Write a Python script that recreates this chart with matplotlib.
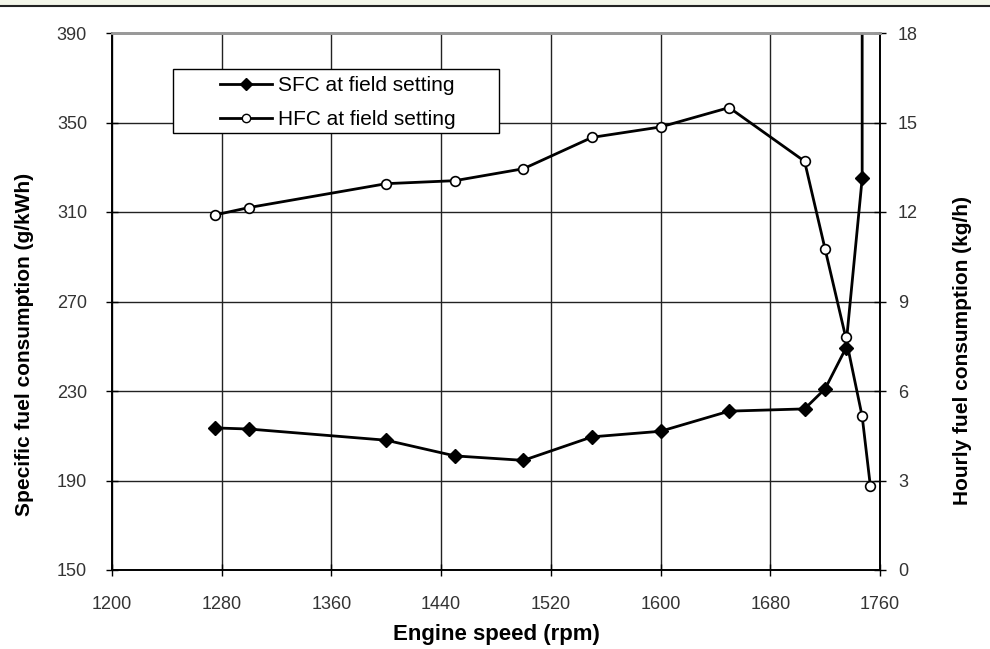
import matplotlib.pyplot as plt
from matplotlib.lines import Line2D

plt.rcParams['font.family'] = ['Liberation Sans', 'DejaVu Sans']

# engine speed (rpm)
sfc_speed = [1275, 1300, 1400, 1450, 1500, 1550, 1600, 1650, 1705, 1720, 1735, 1747, 1747]
sfc_values = [213.5, 213, 208, 201, 199, 209.5, 212, 221, 222, 231, 249, 325, 900]
hfc_speed = [1275, 1300, 1400, 1450, 1500, 1550, 1600, 1650, 1705, 1720, 1735, 1747, 1753]
hfc_values = [11.9, 12.15, 12.95, 13.05, 13.45, 14.5, 14.85, 15.5, 13.7, 10.75, 7.8, 5.15, 2.8]

x_ticks = [1200, 1280, 1360, 1440, 1520, 1600, 1680, 1760]
left_ticks = [150, 190, 230, 270, 310, 350, 390]
right_ticks = [0, 3, 6, 9, 12, 15, 18]

fig = plt.figure(figsize=(9.9, 6.49), dpi=100)
# cream strip at top of the picture
fig.patches.append(plt.Rectangle((0, 1 - 5.5 / 649), 1, 5.5 / 649, transform=fig.transFigure,
                                 facecolor='#f3f6e9', edgecolor='none'))
fig.lines.append(Line2D([0, 1], [1 - 6 / 649, 1 - 6 / 649], transform=fig.transFigure,
                        color='#222222', linewidth=1.5))

ax = fig.add_axes([112 / 990, 79 / 649, 768 / 990, 537 / 649])
ax2 = ax.twinx()

ax.set_xlim(1200, 1760)
ax.set_ylim(150, 390)
ax2.set_ylim(0, 18)
ax.set_xticks(x_ticks)
ax.set_yticks(left_ticks)
ax2.set_yticks(right_ticks)

ax.grid(True, color='#222222', linewidth=1)
ax.set_axisbelow(True)

for a in (ax, ax2):
    for s in a.spines.values():
        s.set_linewidth(1.2)
        s.set_color('black')
ax.spines['top'].set_color('#999999')
ax.spines['top'].set_linewidth(2)
ax2.spines['top'].set_color('#999999')
ax2.spines['top'].set_linewidth(2)

tick_font = dict(labelsize=13, labelcolor='#333333')
ax.tick_params(axis='x', direction='inout', length=8, width=1, pad=15, **tick_font)
ax.tick_params(axis='y', direction='inout', length=8, width=1, pad=14, **tick_font)
ax2.tick_params(axis='y', direction='inout', length=8, width=1, pad=9, **tick_font)

ax.plot(sfc_speed, sfc_values, color='black', linewidth=2, marker='D', markersize=7,
        markerfacecolor='black', markeredgecolor='black', clip_on=True, zorder=3)
ax2.plot(hfc_speed, hfc_values, color='black', linewidth=2, marker='o', markersize=7,
         markerfacecolor='white', markeredgecolor='black', markeredgewidth=1.2, zorder=3)

ax.set_xlabel('Engine speed (rpm)', fontsize=16, fontweight='bold')
ax.xaxis.set_label_coords(0.5, -0.1)
ax.set_ylabel('Specific fuel consumption (g/kWh)', fontsize=15, fontweight='bold')
ax.yaxis.set_label_coords(-0.1016, 0.42)
ax2.set_ylabel('Hourly fuel consumption (kg/h)', fontsize=15, fontweight='bold')
ax2.yaxis.set_label_coords(1.095, 0.408)

# legend box drawn separately so it can be wider than its contents
ax2.add_patch(plt.Rectangle((0.0794, 0.8138), 0.4245, 0.1192, transform=ax2.transAxes,
                            facecolor='white', edgecolor='black', linewidth=1, zorder=9))
handles = [Line2D([], [], color='black', linewidth=2, marker='D', markersize=6,
                  markerfacecolor='black'),
           Line2D([], [], color='black', linewidth=2, marker='o', markersize=6,
                  markerfacecolor='white')]
leg = ax2.legend(handles, ['SFC at field setting', 'HFC at field setting'],
                 loc='upper left', bbox_to_anchor=(0.1406, 0.919), fontsize=15,
                 frameon=False, handlelength=2.5, handletextpad=0.3,
                 borderpad=0, labelspacing=0.72, borderaxespad=0)
leg.set_zorder(10)

fig.savefig('out.png', dpi=100)
